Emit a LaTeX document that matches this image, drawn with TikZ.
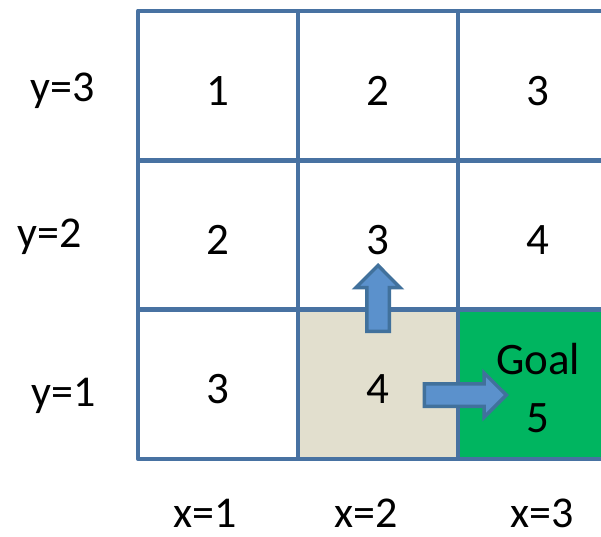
\documentclass[tikz,border=0pt]{standalone}
\usepackage{fontspec}
\setmainfont{Carlito}
\definecolor{gridblue}{RGB}{72,114,162}
\definecolor{arrowedge}{RGB}{65,113,156}
\definecolor{arrowfill}{RGB}{91,145,204}
\definecolor{startbeige}{RGB}{226,223,206}
\definecolor{goalgreen}{RGB}{0,181,96}
\usetikzlibrary{shapes.arrows,positioning,calc}

\begin{document}
\begin{tikzpicture}[x=1pt, y=-1pt,
    cell/.style={rectangle, draw=gridblue, line width=4.5pt, line join=round,
                 minimum width=160pt, minimum height=149.5pt, inner sep=0pt,
                 font=\fontsize{45}{58}\selectfont, text height=39pt, text depth=0pt},
    axis/.style={font=\fontsize{44}{50}\selectfont, anchor=base, inner sep=0pt},
    move/.style={single arrow, draw=arrowedge, fill=arrowfill, line width=3.5pt,
                 inner xsep=0pt, inner ysep=9.5pt, single arrow head extend=11pt, anchor=tip}]

\useasboundingbox (0,0) rectangle (601,536);
\clip (0,0) rectangle (601,536);

% grid of cells (column, row)
\node[cell] (c13) at (218,85.5) {1};
\node[cell] (c23) at (378,85.5) {2};
\node[cell] (c33) at (538,85.5) {3};
\node[cell] (c12) at (218,235) {2};
\node[cell] (c22) at (378,235) {3};
\node[cell] (c32) at (538,235) {4};
\node[cell] (c11) at (218,384) {3};
\node[cell, fill=startbeige] (c21) at (378,384) {4};
\node[cell, fill=goalgreen, align=center, text height=, text depth=] (c31) at (538,384)
  {\rule{0pt}{39pt}Goal\\5};

% moves out of the start cell
\node[move, rotate=90, minimum height=66pt] (up) at ($(c21.north)+(0,-44)$) {};
\node[move, minimum height=82pt] (right) at ($(c21.east)+(48.5,11)$) {};

% axis labels
\node[axis] (y3) at (62.5,101) {y=3};
\node[axis] (y2) at (50,247) {y=2};
\node[axis] (y1) at (63.5,406) {y=1};
\node[axis] (x1) at (205.5,527) {x=1};
\node[axis] (x2) at (366.5,527) {x=2};
\node[axis] (x3) at (542,527) {x=3};
\end{tikzpicture}
\end{document}
